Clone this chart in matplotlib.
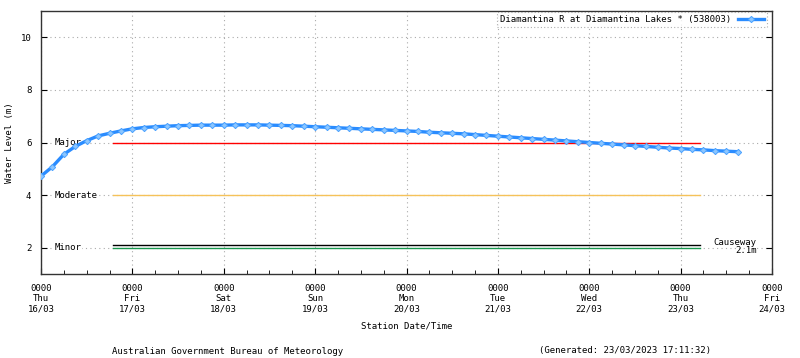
import matplotlib
matplotlib.use("Agg")
import matplotlib.pyplot as plt
from matplotlib.ticker import MultipleLocator

# Hours since 16/03 0000, 3-hourly readings
hours = list(range(0, 186, 3))
level = [4.72, 5.08, 5.55, 5.85, 6.07, 6.25, 6.35, 6.44,
         6.52, 6.57, 6.60, 6.62, 6.64, 6.65, 6.66, 6.66,
         6.66, 6.67, 6.67, 6.67, 6.66, 6.65, 6.64, 6.62,
         6.60, 6.58, 6.56, 6.54, 6.52, 6.50, 6.48, 6.46,
         6.44, 6.42, 6.39, 6.37, 6.35, 6.33, 6.30, 6.27,
         6.24, 6.21, 6.18, 6.15, 6.12, 6.09, 6.06, 6.03,
         6.00, 5.97, 5.94, 5.91, 5.88, 5.85, 5.82, 5.79,
         5.77, 5.74, 5.72, 5.69, 5.67, 5.65]

# Flood classification levels
class_names = ["Major", "Moderate", "Minor"]
class_levels = [6.0, 4.0, 2.0]
class_colors = ["#ff0000", "#f5c25a", "#1a9850"]
causeway_level = 2.1
class_start, class_end = 19, 173

day_ticks = [0, 24, 48, 72, 96, 120, 144, 168, 192]
day_names = ["Thu", "Fri", "Sat", "Sun", "Mon", "Tue", "Wed", "Thu", "Fri"]
day_dates = ["16/03", "17/03", "18/03", "19/03", "20/03", "21/03", "22/03", "23/03", "24/03"]

FS = 6.5
plt.rcParams['font.family'] = ['DejaVu Sans Mono']
plt.rcParams['font.size'] = FS

fig = plt.figure(figsize=(8, 3.58), dpi=100)
ax = fig.add_axes([41/800, 84/358, 731/800, 263/358])

ax.set_xlim(0, 192)
ax.set_ylim(1, 11)
ax.grid(True, color="#aaaaaa", linestyle=(0, (1, 3)), linewidth=0.8)
ax.set_axisbelow(True)

# Classification lines
for name, lev, col in zip(class_names, class_levels, class_colors):
    ax.plot([class_start, class_end], [lev, lev], color=col, linewidth=1.0, zorder=2)
    ax.text(3.5, lev, name, ha="left", va="center", fontsize=FS,
            bbox=dict(facecolor="white", edgecolor="none", pad=0.5), zorder=3)
ax.plot([class_start, class_end], [causeway_level, causeway_level], color="black",
        linewidth=1.0, zorder=2)
ax.text(188, 2.2, "Causeway", ha="right", va="center", fontsize=FS,
        bbox=dict(facecolor="white", edgecolor="none", pad=0.2), zorder=3)
ax.text(188, 1.88, "2.1m", ha="right", va="center", fontsize=FS, zorder=3)

# Water level series
ax.plot(hours, level, color="#2a8cff", linewidth=2.4, marker="D", markersize=3.2,
        markerfacecolor="#8cc6ff", markeredgecolor="#4aa2ff", markeredgewidth=0.7,
        label="Diamantina R at Diamantina Lakes * (538003)", zorder=4)

ax.set_xticks(day_ticks)
ax.set_xticklabels([f"0000\n{n}\n{d}" for n, d in zip(day_names, day_dates)],
                   linespacing=1.2)
ax.xaxis.set_minor_locator(MultipleLocator(6))
ax.set_yticks([2, 4, 6, 8, 10])
ax.tick_params(axis="both", which="both", direction="in", top=False, right=True)
ax.tick_params(axis="x", which="major", length=4, pad=7)
ax.tick_params(axis="x", which="minor", length=3)
ax.tick_params(axis="y", which="major", length=4, pad=7)

for s in ax.spines.values():
    s.set_color("#333333")
    s.set_linewidth(1.0)

ax.set_xlabel("Station Date/Time", fontsize=FS, labelpad=6)
fig.text(10/800, 1 - 142.5/358, "Water Level (m)", rotation=90,
         ha="center", va="center", fontsize=FS)

leg = ax.legend(loc="upper right", fontsize=FS, frameon=True, fancybox=False,
                borderpad=0.35, handlelength=2.8, markerfirst=False,
                bbox_to_anchor=(0.993, 0.997), borderaxespad=0.0)
leg.get_frame().set_edgecolor("#999999")
leg.get_frame().set_linestyle((0, (1, 2)))
leg.get_frame().set_linewidth(0.8)

fig.text(228/800, 1 - 351/358, "Australian Government Bureau of Meteorology",
         ha="center", va="center", fontsize=FS)
fig.text(625/800, 1 - 351/358, "(Generated: 23/03/2023 17:11:32)",
         ha="center", va="center", fontsize=FS)

fig.savefig("out.png", dpi=100)
